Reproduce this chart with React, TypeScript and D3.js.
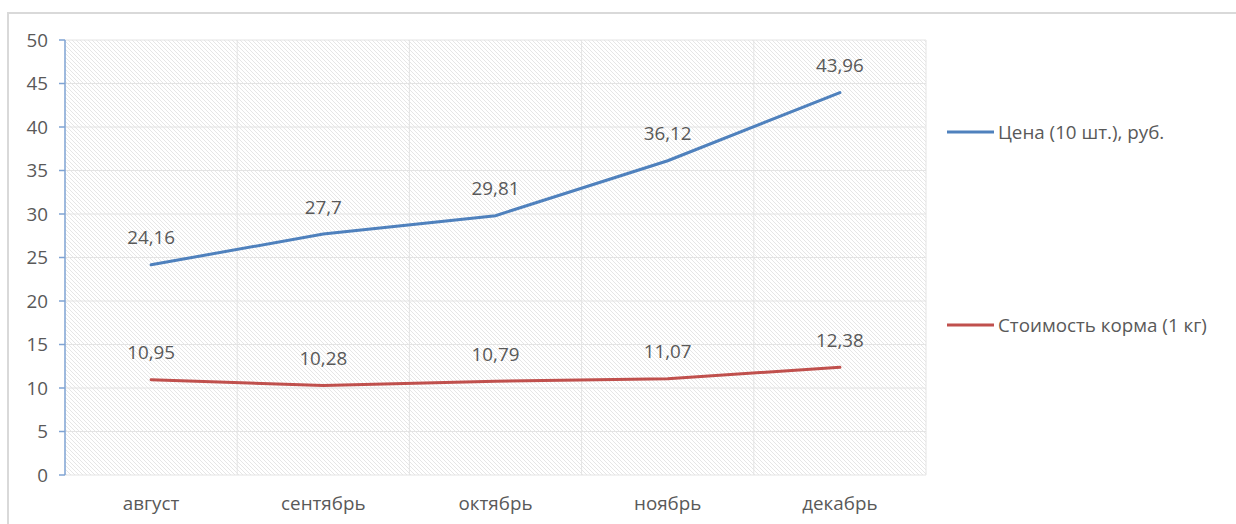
import React from "react";
import * as d3 from "d3";

const months = ["август", "сентябрь", "октябрь", "ноябрь", "декабрь"];
const priceValues = [24.16, 27.7, 29.81, 36.12, 43.96];
const feedValues = [10.95, 10.28, 10.79, 11.07, 12.38];
const seriesNames = ["Цена (10 шт.), руб.", "Стоимость корма (1 кг)"];
const yTicks = [0, 5, 10, 15, 20, 25, 30, 35, 40, 45, 50];

const W = 1236;
const H = 524;
const plot = { left: 65, right: 926, top: 40, bottom: 475 };
const FONT = "'Open Sans', 'Liberation Sans', Arial, sans-serif";
const TEXT = "#595959";
const FS = 18.8;

export default function App() {
  const x = d3.scaleBand<string>().domain(months).range([plot.left, plot.right]);
  const y = d3.scaleLinear().domain([0, 50]).range([plot.bottom, plot.top]);
  const line = d3
    .line<number>()
    .x((_, i) => (x(months[i]) as number) + x.bandwidth() / 2)
    .y((d) => y(d));

  const series = [
    { name: seriesNames[0], values: priceValues, color: "#4F81BD", legendY: 132 },
    { name: seriesNames[1], values: feedValues, color: "#C0504D", legendY: 325 },
  ];
  const fmt = (v: number) => String(v).replace(".", ",");

  return (
    <svg
      width={W}
      height={H}
      style={{ position: "absolute", left: 0, top: 0, background: "#fff" }}
      fontFamily={FONT}
    >
      <defs>
        <pattern id="hatch" width="4" height="4" patternUnits="userSpaceOnUse">
          <rect width="4" height="4" fill="#ffffff" />
          <path d="M-1,-1 L5,5 M-1,3 L1,5 M3,-1 L5,1" stroke="#e6e6e6" strokeWidth="1" />
        </pattern>
      </defs>
      <rect x={8} y={13} width={W} height={H} fill="#fff" stroke="#d9d9d9" strokeWidth={2} />
      <rect
        x={plot.left}
        y={plot.top}
        width={plot.right - plot.left}
        height={plot.bottom - plot.top}
        fill="url(#hatch)"
      />
      {yTicks.map((t) => (
        <line key={"g" + t} x1={plot.left} x2={plot.right} y1={y(t)} y2={y(t)} stroke="#e4e4e4" strokeWidth={1} />
      ))}
      {months.map((m) => (
        <line
          key={"v" + m}
          x1={(x(m) as number) + x.bandwidth()}
          x2={(x(m) as number) + x.bandwidth()}
          y1={plot.top}
          y2={plot.bottom}
          stroke="#e4e4e4"
          strokeWidth={1}
        />
      ))}
      <line x1={plot.left} x2={plot.left} y1={plot.top} y2={plot.bottom} stroke="#7fa3d3" strokeWidth={1.5} />
      {yTicks.map((t) => (
        <g key={"t" + t}>
          <line x1={plot.left - 6} x2={plot.left} y1={y(t)} y2={y(t)} stroke="#7fa3d3" strokeWidth={1.5} />
          <text x={48} y={y(t)} dy="0.35em" textAnchor="end" fontSize={FS} fill={TEXT}>
            {t}
          </text>
        </g>
      ))}
      {months.map((m) => (
        <text
          key={"x" + m}
          x={(x(m) as number) + x.bandwidth() / 2}
          y={503}
          dy="0.35em"
          textAnchor="middle"
          fontSize={FS}
          fill={TEXT}
        >
          {m}
        </text>
      ))}
      {series.map((s) => (
        <g key={s.name}>
          <path d={line(s.values) || ""} fill="none" stroke={s.color} strokeWidth={3} strokeLinecap="round" />
          {s.values.map((v, i) => (
            <text
              key={i}
              x={(x(months[i]) as number) + x.bandwidth() / 2}
              y={y(v) - 27}
              dy="0.35em"
              textAnchor="middle"
              fontSize={FS}
              fill={TEXT}
            >
              {fmt(v)}
            </text>
          ))}
          <line x1={947} x2={994} y1={s.legendY} y2={s.legendY} stroke={s.color} strokeWidth={3} />
          <text x={998} y={s.legendY} dy="0.35em" fontSize={FS} fill={TEXT}>
            {s.name}
          </text>
        </g>
      ))}
    </svg>
  );
}
